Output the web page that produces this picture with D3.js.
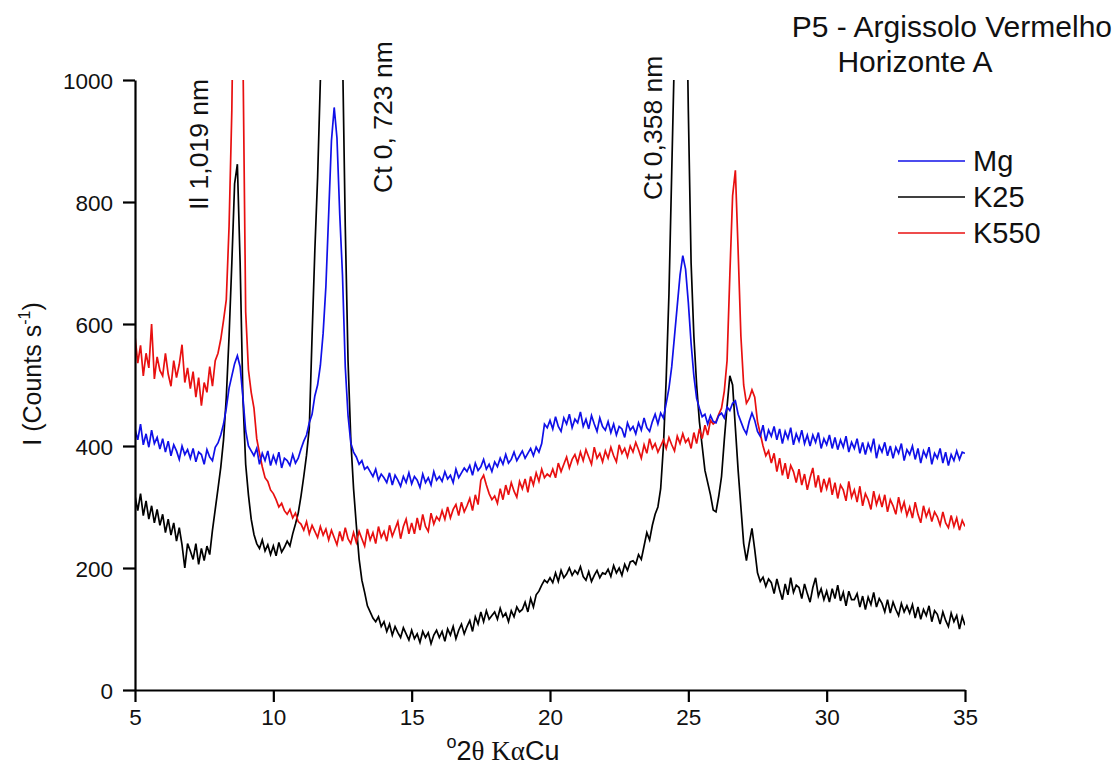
<!DOCTYPE html>
<html><head><meta charset="utf-8">
<script src="https://cdn.jsdelivr.net/npm/d3@7"></script>
<style>body{margin:0;background:#fff}svg text{font-family:"Liberation Sans",Arial,sans-serif}</style>
</head><body><svg id="c" width="1117" height="767"></svg>
<script>
const xStart = 5, xStep = 0.1;
const seriesNames = ["Mg", "K25", "K550"];
const seriesColors = ["#1010e8", "#000000", "#e81010"];
const xTicks = [5, 10, 15, 20, 25, 30, 35];
const yTicks = [0, 200, 400, 600, 800, 1000];
const peakLabels = ["Il 1,019 nm", "Ct 0, 723 nm", "Ct 0,358 nm"];
const peakLabelX = [7.64, 14.29, 24.05];

const mg = [
428,410,436,402,420,398,426,404,414,395,
412,390,408,384,402,392,378,400,386,394,
380,396,374,390,386,370,394,382,376,398,
405,418,436,462,495,515,535,548,530,480,
425,400,392,384,396,370,388,376,392,368,
384,372,390,364,380,376,368,386,372,380,
395,408,418,438,452,482,500,532,585,662,
780,900,955,905,780,680,530,450,405,390,
382,370,376,362,366,358,350,362,344,354,
348,340,356,336,352,344,334,350,340,356,
338,350,344,332,354,340,348,336,358,344,
350,342,358,346,352,340,362,348,356,364,
358,368,352,372,360,366,378,362,370,358,
374,366,380,370,386,372,378,390,376,384,
392,380,388,396,384,398,390,404,436,430,
442,428,448,432,424,446,436,452,430,444,
438,456,432,444,428,450,436,424,446,432,
426,440,422,436,418,432,428,414,438,426,
432,420,438,426,446,430,424,440,452,436,
454,446,470,495,530,580,630,680,712,690,
635,568,515,478,462,448,452,436,450,440,
438,450,454,446,464,458,470,474,452,440,
428,420,440,454,442,424,416,434,408,426,
416,432,410,428,404,424,412,430,402,420,
408,426,404,418,400,418,406,422,396,412,
402,418,396,414,394,410,398,416,390,406,
396,412,388,406,386,404,392,412,380,400,
390,406,384,400,380,398,388,404,376,394,
386,400,378,396,372,392,382,398,370,388,
380,396,372,390,368,386,376,392,378,390,
388];

const k25 = [
318,294,322,286,310,280,302,274,296,270,
288,258,280,254,274,244,266,238,200,240,
228,214,240,206,232,212,236,222,262,296,
330,365,410,480,580,700,830,862,700,480,
370,320,280,255,240,232,246,228,238,222,
236,220,242,226,234,244,236,256,272,290,
318,350,385,430,580,720,840,1000,1300,1550,
1750,1850,1800,1650,1350,1050,760,540,410,330,
270,215,180,160,138,128,118,112,120,104,
112,96,108,90,104,94,86,102,92,82,
98,84,92,78,96,86,94,76,90,98,
86,96,80,100,90,104,84,98,108,92,
104,114,96,120,108,128,112,130,116,122,
128,116,134,120,126,112,130,120,136,128,
132,144,128,150,136,156,162,172,180,176,
184,176,192,178,196,184,190,200,188,196,
190,202,186,180,194,178,188,196,184,192,
190,198,186,204,192,200,188,206,196,210,
212,206,222,214,236,258,246,270,288,300,
330,400,510,650,850,1050,1450,1700,1550,1250,
950,700,580,500,440,400,360,340,320,295,
292,318,350,410,465,515,500,430,360,300,
240,212,240,265,230,192,178,185,170,182,
176,158,182,164,148,174,156,184,160,172,
168,150,174,158,144,168,184,154,166,148,
162,144,166,150,172,146,160,138,162,148,
148,158,136,154,132,152,140,160,136,150,
142,128,148,126,144,132,122,142,128,138,
126,140,118,136,116,132,122,138,112,130,
124,108,128,114,104,126,112,122,100,120,
106];

const k550 = [
580,536,565,515,552,528,600,510,546,524,
515,552,518,498,540,512,534,566,504,528,
494,522,480,512,466,504,488,530,498,540,
552,575,606,640,760,950,1300,1500,1400,1050,
620,525,488,462,412,388,366,348,342,328,
322,312,300,306,294,288,296,282,290,276,
272,262,276,256,270,260,250,268,254,264,
246,262,250,238,260,244,266,248,240,258,
242,260,248,236,264,246,258,240,268,250,
260,244,270,252,264,276,248,268,280,256,
274,256,282,262,288,268,260,290,272,284,
278,294,280,300,282,296,304,286,308,292,
302,314,294,320,304,344,352,336,322,312,
318,306,330,312,336,320,340,326,316,342,
330,346,324,350,336,356,342,362,348,354,
350,362,348,372,358,370,382,364,378,386,
372,390,376,394,382,370,398,380,388,374,
392,380,398,384,374,402,388,396,382,400,
390,406,394,380,402,388,412,396,404,390,
400,410,396,414,402,392,416,404,420,406,
412,396,422,404,428,412,434,418,442,436,
440,452,462,490,540,680,810,852,720,580,
500,470,478,492,480,440,420,400,384,392,
372,388,358,380,352,372,346,368,358,340,
362,336,354,328,348,364,332,352,324,346,
330,348,320,340,314,336,328,310,342,316,
328,308,334,302,322,312,296,326,304,318,
300,320,292,312,302,288,316,294,308,286,
300,282,308,288,274,302,284,296,276,292,
284,270,292,274,266,286,268,282,262,278,
268];

const svg = d3.select("#c");
const x = d3.scaleLinear().domain([5, 35]).range([135, 965]);
const y = d3.scaleLinear().domain([0, 1000]).range([690, 80]);

svg.append("clipPath").attr("id", "clip").append("rect")
  .attr("x", 135).attr("y", 80).attr("width", 830).attr("height", 610);

const line = d3.line().x((d, i) => x(xStart + i * xStep)).y(d => y(d));
const plot = svg.append("g").attr("clip-path", "url(#clip)");
[[k25, 1], [k550, 2], [mg, 0]].forEach(([arr, k]) => {
  plot.append("path").datum(arr).attr("d", line)
    .attr("fill", "none").attr("stroke", seriesColors[k])
    .attr("stroke-width", 1.7).attr("stroke-linejoin", "miter");
});

const xAxis = svg.append("g").attr("transform", "translate(0,690)")
  .call(d3.axisBottom(x).tickValues(xTicks).tickFormat(d3.format("d"))
    .tickSize(12).tickPadding(7).tickSizeOuter(0));
const yAxis = svg.append("g").attr("transform", "translate(135,0)")
  .call(d3.axisLeft(y).tickValues(yTicks).tickFormat(d3.format("d"))
    .tickSize(12).tickPadding(10).tickSizeOuter(0));
[xAxis, yAxis].forEach(a => {
  a.select(".domain").attr("stroke", "#000").attr("stroke-width", 2.2);
  a.selectAll(".tick line").attr("stroke", "#000").attr("stroke-width", 2.2);
  a.selectAll(".tick text").attr("font-size", 22.5).attr("fill", "#111")
    .attr("font-family", "Liberation Sans, Arial, sans-serif");
});
yAxis.selectAll(".tick text").attr("dy", "0.36em");

// x axis label
const xl = svg.append("text").attr("x", 503).attr("y", 760).attr("text-anchor", "middle")
  .attr("font-size", 27).attr("fill", "#111");
xl.append("tspan").attr("font-size", 18).attr("dy", -12).text("o");
xl.append("tspan").attr("dy", 12).text("2");
xl.append("tspan").attr("font-family", "Liberation Serif, Times New Roman, serif").text("θ Kα");
xl.append("tspan").text("Cu");

// y axis label
const yl = svg.append("text").attr("transform", "translate(41,374) rotate(-90)")
  .attr("text-anchor", "middle").attr("font-size", 25).attr("fill", "#111");
yl.append("tspan").text("I (Counts s");
yl.append("tspan").attr("font-size", 16).attr("dy", -11).text("-1");
yl.append("tspan").attr("dy", 11).text(")");

// title
svg.append("text").attr("x", 1112).attr("y", 37).attr("text-anchor", "end")
  .attr("font-size", 30).attr("fill", "#111").text("P5 - Argissolo Vermelho");
svg.append("text").attr("x", 915).attr("y", 72).attr("text-anchor", "middle")
  .attr("font-size", 30).attr("fill", "#111").text("Horizonte A");

// legend
seriesNames.forEach((n, i) => {
  const ly = 161 + i * 36;
  svg.append("line").attr("x1", 898).attr("x2", 965).attr("y1", ly).attr("y2", ly)
    .attr("stroke", seriesColors[i]).attr("stroke-width", 1.6);
  svg.append("text").attr("x", 973).attr("y", ly + 10).attr("font-size", 29)
    .attr("fill", "#111").text(n);
});

// peak annotations (rotated, anchored at their lower end)
const peakBottom = [210, 193, 200];
peakLabels.forEach((t, i) => {
  svg.append("text")
    .attr("transform", `translate(${x(peakLabelX[i])},${peakBottom[i]}) rotate(-90)`)
    .attr("text-anchor", "start").attr("font-size", 26.5).attr("fill", "#111").text(t);
});
</script></body></html>
